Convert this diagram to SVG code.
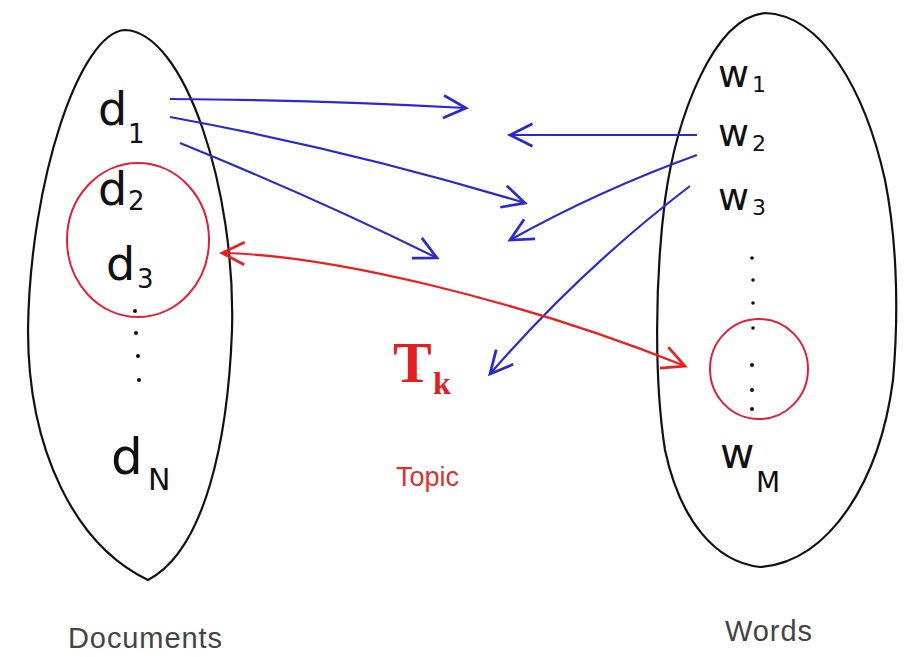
<svg xmlns="http://www.w3.org/2000/svg" width="908" height="657" viewBox="0 0 908 657">
<style>
.outline{fill:none;stroke:#111;stroke-width:2.2}
.redc{fill:none;stroke:#e0203a;stroke-width:2}
.hand{font-family:"DejaVu Sans",sans-serif;fill:#111}
.dot{fill:#111}
.blue{fill:none;stroke:#2a2acc;stroke-width:2.2}
.red{fill:none;stroke:#e82020;stroke-width:2.2}
.cap{font-family:"Liberation Sans",Arial,sans-serif;font-size:29px;fill:#444}
</style>
<defs>
<marker id="ab" markerUnits="userSpaceOnUse" markerWidth="30" markerHeight="30" viewBox="-20 -12 24 24" refX="0" refY="0" orient="auto">
<path d="M-18,-9 L0,0 L-18,9" fill="none" stroke="#2a2acc" stroke-width="2.2"/>
</marker>
<marker id="ar" markerUnits="userSpaceOnUse" markerWidth="30" markerHeight="30" viewBox="-20 -12 24 24" refX="0" refY="0" orient="auto-start-reverse">
<path d="M-18,-9 L0,0 L-18,9" fill="none" stroke="#e82020" stroke-width="2.2"/>
</marker>
</defs>
<rect width="908" height="657" fill="#fff"/>
<g id="documents">
<path class="outline" d="M125,30 C80,32 30,180 28,330 C28,450 75,545 148,580 C205,550 228,440 232,330 C236,190 185,32 125,30 Z"/>
<text class="hand" x="98" y="125" font-size="46">d</text><text class="hand" x="128" y="143" font-size="26">1</text>
<text class="hand" x="98" y="205" font-size="46">d</text><text class="hand" x="128" y="210" font-size="26">2</text>
<text class="hand" x="106" y="280" font-size="46">d</text><text class="hand" x="137" y="288" font-size="26">3</text>
<circle class="dot" cx="135" cy="311" r="2"/><circle class="dot" cx="136" cy="333" r="2"/><circle class="dot" cx="138" cy="356" r="2"/><circle class="dot" cx="139" cy="380" r="2"/>
<text class="hand" x="111" y="474" font-size="50">d</text><text class="hand" x="148" y="490" font-size="30">N</text>
<ellipse class="redc" cx="138" cy="240" rx="71" ry="77"/>
<text class="cap" x="68" y="648" textLength="154">Documents</text>
</g>
<g id="words">
<path class="outline" d="M765,13 C712,18 676,120 665,200 C655,280 654,380 665,450 C680,520 715,562 760,567 C830,562 880,480 893,380 C900,300 895,230 885,180 C865,90 822,15 765,13 Z"/>
<text class="hand" x="718" y="87" font-size="38">w</text><text class="hand" x="752" y="92" font-size="22">1</text>
<text class="hand" x="718" y="146" font-size="38">w</text><text class="hand" x="752" y="151" font-size="22">2</text>
<text class="hand" x="718" y="210" font-size="38">w</text><text class="hand" x="752" y="215" font-size="22">3</text>
<circle class="dot" cx="752" cy="258" r="1.8"/><circle class="dot" cx="753" cy="280" r="1.8"/><circle class="dot" cx="753" cy="303" r="1.8"/><circle class="dot" cx="753" cy="328" r="1.8"/>
<circle class="dot" cx="752" cy="365" r="2"/><circle class="dot" cx="752" cy="390" r="2"/><circle class="dot" cx="752" cy="409" r="2"/>
<text class="hand" x="720" y="468" font-size="42">w</text><text class="hand" x="756" y="492" font-size="28">M</text>
<ellipse class="redc" cx="759" cy="369" rx="49" ry="50"/>
<text class="cap" x="725" y="641" textLength="87">Words</text>
</g>
<g id="topic">
<text x="393" y="382" font-family="Liberation Serif,Times New Roman,serif" font-weight="bold" font-size="58" fill="#e02020">T</text>
<text x="433" y="394" font-family="Liberation Serif,Times New Roman,serif" font-weight="bold" font-size="32" fill="#e02020">k</text>
<text x="396" y="486" font-family="Liberation Sans,Arial,sans-serif" font-size="27" fill="#e03030">Topic</text>
</g>
<g id="connectors">
<path class="blue" marker-end="url(#ab)" d="M170,99 Q320,100 466,108"/>
<path class="blue" marker-end="url(#ab)" d="M170,117 Q350,150 525,203"/>
<path class="blue" marker-end="url(#ab)" d="M180,143 Q320,200 437,258"/>
<path class="blue" marker-end="url(#ab)" d="M697,135 L510,135"/>
<path class="blue" marker-end="url(#ab)" d="M697,155 Q600,190 510,240"/>
<path class="blue" marker-end="url(#ab)" d="M690,186 Q580,270 490,374"/>
<path class="red" marker-start="url(#ar)" marker-end="url(#ar)" d="M222,253 C330,255 520,300 685,366"/>
</g>
</svg>
